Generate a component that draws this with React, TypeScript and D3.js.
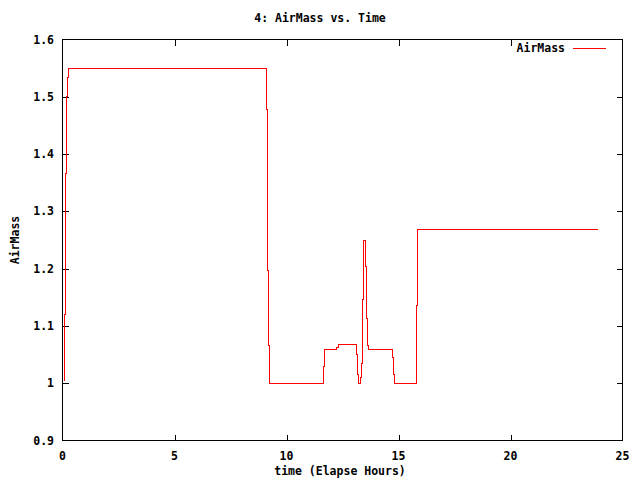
import React from "react";
import * as d3 from "d3";

const WIDTH = 640;
const HEIGHT = 480;
const MARGIN = { top: 39.5, right: 17.5, bottom: 39.5, left: 62.5 };

// step points (hours, airmass)
const hours = [
  0.03, 0.07, 0.13, 0.2, 0.24, 0.29, 9.09, 9.13, 9.17, 9.21, 9.25, 11.67, 11.7,
  12.23, 12.31, 13.14, 13.18, 13.23, 13.32, 13.36, 13.41, 13.45, 13.54, 13.58,
  13.63, 13.67, 14.72, 14.76, 14.81, 15.82, 15.86, 23.87,
];
const airMass = [
  1.005, 1.12, 1.366, 1.5, 1.534, 1.55, 1.478, 1.33, 1.196, 1.065, 1.0, 1.03,
  1.059, 1.063, 1.067, 1.05, 1.015, 1.0, 1.01, 1.034, 1.146, 1.249, 1.203,
  1.113, 1.065, 1.059, 1.045, 1.015, 1.0, 1.135, 1.268, 1.268,
];
const xTicks = [0, 5, 10, 15, 20, 25];
const yTicks = [0.9, 1.0, 1.1, 1.2, 1.3, 1.4, 1.5, 1.6];

const FONT = "'DejaVu Sans Mono', monospace";
const TICK = 6;

const App = () => {
  const left = MARGIN.left;
  const top = MARGIN.top;
  const bottom = HEIGHT - MARGIN.bottom;

  const xScale = d3.scaleLinear().domain([0, 25]).range([left, WIDTH - MARGIN.right]);
  const yScale = d3.scaleLinear().domain([0.9, 1.6]).range([bottom, top]);

  const points: [number, number][] = hours.map((h, i) => [h, airMass[i]]);
  const line = d3
    .line<[number, number]>()
    .x((d) => Math.round(xScale(d[0]) - 0.5) + 0.5)
    .y((d) => Math.round(yScale(d[1]) - 0.5) + 0.5)
    .curve(d3.curveStepAfter);

  const x0 = xScale(0);
  const x1 = xScale(25);

  return (
    <div style={{ position: "absolute", left: 0, top: 0 }}>
      <svg width={WIDTH} height={HEIGHT} style={{ display: "block", background: "#fff" }}>
        <g fontFamily={FONT} fontWeight="bold" fontSize={11.5} fill="#000">
          <text x={320} y={22} textAnchor="middle">
            4: AirMass vs. Time
          </text>
          <text x={340} y={475} textAnchor="middle">
            time (Elapse Hours)
          </text>
          <text transform={`translate(19, 240) rotate(-90)`} textAnchor="middle">
            AirMass
          </text>
          {xTicks.map((t) => (
            <text key={t} x={xScale(t)} y={460} textAnchor="middle">
              {t}
            </text>
          ))}
          {yTicks.map((t) => (
            <text key={t} x={54} y={yScale(t) + 4} textAnchor="end">
              {String(+t.toFixed(1))}
            </text>
          ))}
          <text x={565} y={52} textAnchor="end">
            AirMass
          </text>
        </g>
        <g stroke="#000" strokeWidth={1} shapeRendering="crispEdges" fill="none">
          {xTicks.slice(1, -1).map((t) => (
            <g key={t}>
              <line x1={Math.round(xScale(t)) + 0.5} x2={Math.round(xScale(t)) + 0.5} y1={bottom} y2={bottom - TICK} />
              <line x1={Math.round(xScale(t)) + 0.5} x2={Math.round(xScale(t)) + 0.5} y1={top} y2={top + TICK} />
            </g>
          ))}
          {yTicks.slice(1, -1).map((t) => (
            <g key={t}>
              <line x1={x0} x2={x0 + TICK} y1={Math.round(yScale(t)) + 0.5} y2={Math.round(yScale(t)) + 0.5} />
              <line x1={x1} x2={x1 - TICK} y1={Math.round(yScale(t)) + 0.5} y2={Math.round(yScale(t)) + 0.5} />
            </g>
          ))}
          <rect x={x0} y={top} width={x1 - x0} height={bottom - top} />
        </g>
        <line x1={573} x2={606} y1={48.5} y2={48.5} stroke="#ff0000" strokeWidth={1} shapeRendering="crispEdges" />
        <path d={line(points) ?? ""} fill="none" stroke="#ff0000" strokeWidth={1} shapeRendering="crispEdges" />
      </svg>
    </div>
  );
};

export default App;
